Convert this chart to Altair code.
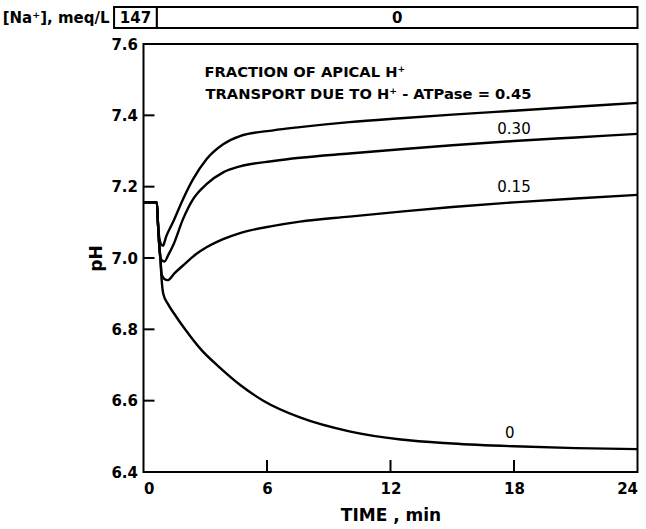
import altair as alt
import pandas as pd

# ---- data ----
t_0 = [0, 0.65, 0.70, 0.76, 0.82, 0.88, 0.96, 1.2, 1.5, 2.02, 2.8, 3.72, 4.7, 5.82, 7.6, 10, 12.5, 15, 18, 21, 24]
ph_0 = [7.156, 7.156, 7.10, 7.04, 7.00, 6.94, 6.90, 6.870, 6.843, 6.80, 6.743, 6.692, 6.644, 6.60, 6.553, 6.514, 6.491, 6.480, 6.472, 6.467, 6.464]

t_15 = [0, 0.65, 0.70, 0.76, 0.82, 0.88, 1.0, 1.18, 1.5, 1.92, 2.56, 3.06, 3.87, 4.69, 6.31, 7.6, 10, 12.5, 15, 18, 21, 24]
ph_15 = [7.156, 7.156, 7.10, 7.04, 7.00, 6.955, 6.942, 6.938, 6.957, 6.979, 7.011, 7.030, 7.053, 7.070, 7.090, 7.102, 7.116, 7.130, 7.143, 7.156, 7.167, 7.177]

t_30 = [0, 0.65, 0.70, 0.76, 0.82, 0.92, 1.02, 1.2, 1.43, 1.92, 2.41, 3.06, 3.87, 4.69, 6.31, 7.6, 10, 12.5, 15, 18, 21, 24]
ph_30 = [7.156, 7.156, 7.10, 7.04, 7.00, 6.992, 6.990, 7.008, 7.034, 7.109, 7.165, 7.207, 7.240, 7.257, 7.272, 7.281, 7.293, 7.305, 7.316, 7.328, 7.338, 7.348]

t_45 = [0, 0.65, 0.70, 0.76, 0.84, 0.94, 1.1, 1.43, 1.92, 2.41, 3.06, 3.87, 4.69, 6.31, 7.6, 10, 12.5, 15, 18, 21, 24]
ph_45 = [7.156, 7.156, 7.10, 7.06, 7.04, 7.034, 7.06, 7.100, 7.165, 7.221, 7.277, 7.319, 7.342, 7.358, 7.367, 7.381, 7.392, 7.402, 7.413, 7.424, 7.435]

series_names = ["0", "0.15", "0.30", "0.45"]

x_tick_values = [0, 6, 12, 18, 24]
y_tick_values = [6.4, 6.6, 6.8, 7.0, 7.2, 7.4, 7.6]
x_inner_ticks = [6, 12, 18]
y_inner_ticks = [6.6, 6.8, 7.0, 7.2, 7.4]

curve_labels = ["0.30", "0.15", "0"]
curve_label_t = [18.0, 18.0, 17.8]
curve_label_ph = [7.361, 7.199, 6.508]

na_labels = ["147", "0"]
na_start = [-1.43, 0.65]
na_end = [0.65, 24.0]

# ---- build tables ----
rows = []
for name, ts, ps in zip(series_names, [t_0, t_15, t_30, t_45], [ph_0, ph_15, ph_30, ph_45]):
    for i, (t, p) in enumerate(zip(ts, ps)):
        rows.append({"series": name, "t": t, "ph": p, "i": i})
df = pd.DataFrame(rows)

na_df = pd.DataFrame({"label": na_labels, "start": na_start, "end": na_end})
na_df["mid"] = (na_df["start"] + na_df["end"]) / 2
lab_df = pd.DataFrame({"label": curve_labels, "t": curve_label_t, "ph": curve_label_ph})

FONT = "DejaVu Sans"
W, H = 494, 428

xscale = alt.Scale(domain=[0, 24], nice=False, zero=False)
yscale = alt.Scale(domain=[6.4, 7.6], nice=False, zero=False)

xaxis = alt.Axis(values=x_tick_values, title="TIME , min", ticks=False, domain=False,
                 grid=False, labelPadding=9, titleY=43, titleBaseline="middle",
                 titleFontSize=17)
yaxis = alt.Axis(values=y_tick_values, format=".1f", title="pH", ticks=False, domain=False,
                 grid=False, labelPadding=6, titleX=-47, titleY=H / 2, titleAngle=-90,
                 titleAlign="center", titleBaseline="middle", titleFontSize=17)

lines = alt.Chart(df).mark_line(color="black", strokeWidth=2.4, interpolate="monotone").encode(
    x=alt.X("t:Q", scale=xscale, axis=xaxis),
    y=alt.Y("ph:Q", scale=yscale, axis=yaxis),
    detail="series:N",
    order="i:Q",
)

ytick = alt.Chart(pd.DataFrame({"v": y_inner_ticks})).mark_rule(color="black", strokeWidth=2).encode(
    y=alt.Y("v:Q", scale=yscale, axis=yaxis), x=alt.value(0), x2=alt.value(11))
xtick = alt.Chart(pd.DataFrame({"v": x_inner_ticks})).mark_rule(color="black", strokeWidth=2).encode(
    x=alt.X("v:Q", scale=xscale, axis=xaxis), y=alt.value(H), y2=alt.value(H - 12))

na_rect = alt.Chart(na_df).mark_rect(fill="white", stroke="black", strokeWidth=2).encode(
    x=alt.X("start:Q", scale=xscale, axis=xaxis), x2="end:Q",
    y=alt.value(-37), y2=alt.value(-16))
na_text = alt.Chart(na_df).mark_text(font=FONT, fontSize=15, fontWeight="bold", color="black",
                                     baseline="middle").encode(
    x=alt.X("mid:Q", scale=xscale, axis=xaxis), y=alt.value(-26), text="label:N")
na_title = alt.Chart(pd.DataFrame({"a": [0]})).mark_text(
    text="[Na⁺], meq/L", font=FONT, fontSize=15, fontWeight="bold", color="black",
    align="right", baseline="middle").encode(x=alt.value(-34), y=alt.value(-26))

ann1 = alt.Chart(pd.DataFrame({"a": [0]})).mark_text(
    text="FRACTION OF APICAL H⁺", font=FONT, fontSize=14.7, fontWeight="bold", color="black",
    align="left", baseline="middle").encode(x=alt.value(61), y=alt.value(29))
ann2 = alt.Chart(pd.DataFrame({"a": [0]})).mark_text(
    text="TRANSPORT DUE TO H⁺ - ATPase = 0.45", font=FONT, fontSize=14.7, fontWeight="bold",
    color="black", align="left", baseline="middle").encode(x=alt.value(62), y=alt.value(51))

labels = alt.Chart(lab_df).mark_text(font=FONT, fontSize=15, color="black", baseline="middle").encode(
    x=alt.X("t:Q", scale=xscale, axis=xaxis), y=alt.Y("ph:Q", scale=yscale, axis=yaxis), text="label:N")

chart = alt.layer(lines, ytick, xtick, na_rect, na_text, na_title, ann1, ann2, labels).properties(
    width=W, height=H,
    autosize=alt.AutoSizeParams(type="none"),
    padding={"left": 143.5, "top": 44, "right": 8.5, "bottom": 57},
).configure_view(stroke="black", strokeWidth=2).configure_axis(
    labelFont=FONT, labelFontSize=15, labelFontWeight="bold", labelColor="black",
    titleFont=FONT, titleFontWeight="bold", titleColor="black",
)

chart.save("out.html", embed_options={"renderer": "svg", "actions": False})
